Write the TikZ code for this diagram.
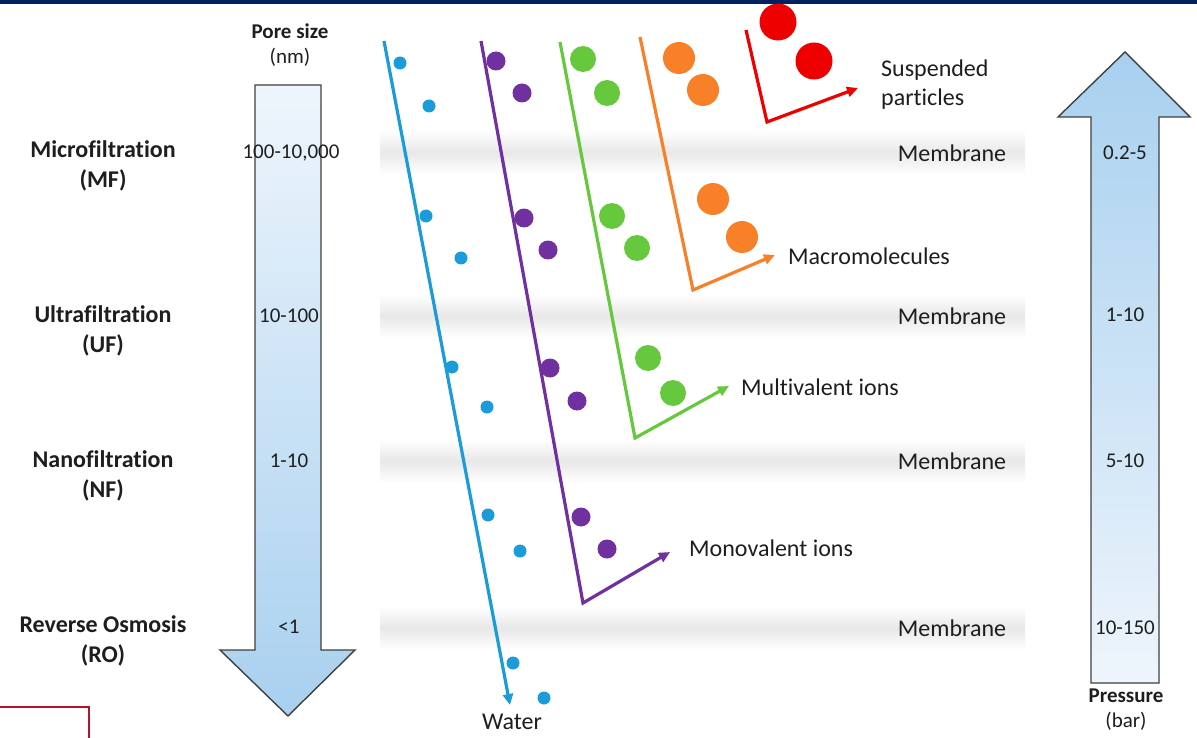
\documentclass[tikz,border=0pt]{standalone}
\usepackage{fontspec}
\setmainfont{Carlito}[RawFeature={-liga;-clig;-dlig;-calt}]
\usetikzlibrary{arrows.meta}

\definecolor{navy}{RGB}{0,32,96}
\definecolor{framered}{RGB}{180,20,40}
\definecolor{arrlight}{RGB}{238,245,252}
\definecolor{arrdark}{RGB}{168,208,239}
\definecolor{cwater}{RGB}{27,155,215}
\definecolor{cmono}{RGB}{112,48,160}
\definecolor{cmulti}{RGB}{102,200,60}
\definecolor{cmacro}{RGB}{247,128,40}
\definecolor{csusp}{RGB}{238,0,0}
\definecolor{txt}{RGB}{30,30,30}

\begin{document}
\begin{tikzpicture}[x=1pt,y=-1pt,
  lbl/.style={font=\fontsize{24}{29}\selectfont, text=txt, inner sep=0pt},
  biglbl/.style={font=\bfseries\fontsize{24}{30}\selectfont, text=txt, inner sep=0pt, align=center},
  val/.style={font=\fontsize{21}{25}\selectfont, text=txt, inner sep=0pt, align=center},
  band/.style={top color=white, bottom color=white, middle color=black!9, draw=none},
  bigarrow/.style={draw=black!75, line width=1.4pt},
  flow/.style={line width=3.2pt, line join=miter, -{Triangle[length=11pt,width=10pt]}},
  dot/.style={circle, inner sep=0pt, draw=none, fill=#1},
  wdot/.style={dot=cwater, minimum size=13pt},
  mdot/.style={dot=cmono, minimum size=19pt},
  gdot/.style={dot=cmulti, minimum size=26pt},
  odot/.style={dot=cmacro, minimum size=32pt},
  rdot/.style={dot=csusp, minimum size=37pt}
]
\clip (0,0) rectangle (1197,738);
\fill[white] (0,0) rectangle (1197,738);

% header rule and frame corner
\fill[navy] (0,0) rectangle (1197,4.5);
\draw[framered, line width=2pt] (-5,707) -- (89,707) -- (89,745);

% membrane bands
\shade[band] (380,130) rectangle (1025,175);
\shade[band] (380,294) rectangle (1025,338);
\shade[band] (380,439) rectangle (1025,483);
\shade[band] (380,606) rectangle (1025,650);

% pore size arrow (down)
\shade[bigarrow, top color=arrlight, bottom color=arrdark]
  (255,85) -- (321,85) -- (321,650) -- (355,650) -- (288,716) -- (220,650) -- (255,650) -- cycle;
% pressure arrow (up)
\shade[bigarrow, top color=arrdark, bottom color=arrlight]
  (1091,683) -- (1159,683) -- (1159,117) -- (1190,117) -- (1125,52) -- (1058,117) -- (1091,117) -- cycle;

% headings
\node[val] (pore) at (290,45) {{\bfseries Pore size}\\(nm)};
\node[val] (pres) at (1126,710) {{\bfseries Pressure}\\(bar)};

% process names
\node[biglbl] (mf) at (103,166) {Microfiltration\\(MF)};
\node[biglbl] (uf) at (103,331) {Ultrafiltration\\(UF)};
\node[biglbl] (nf) at (103,476) {Nanofiltration\\(NF)};
\node[biglbl] (ro) at (103,641) {Reverse Osmosis\\(RO)};

% pore sizes
\node[val] (p1) at (291,153) {100-10,000};
\node[val] (p2) at (289,316) {10-100};
\node[val] (p3) at (289,461) {1-10};
\node[val] (p4) at (289,627) {<1};

% pressures
\node[val] (b1) at (1125,153) {0.2-5};
\node[val] (b2) at (1125,315) {1-10};
\node[val] (b3) at (1125,461) {5-10};
\node[val] (b4) at (1125,628) {10-150};

% membranes
\node[lbl] (m1) at (952,153) {Membrane};
\node[lbl] (m2) at (952,316) {Membrane};
\node[lbl] (m3) at (952,461) {Membrane};
\node[lbl] (m4) at (952,628) {Membrane};

% flow paths
\coordinate (w0) at (384,41);
\coordinate (w1) at (510,705);
\coordinate (v0) at (481,41);
\coordinate (v1) at (583,603);
\coordinate (v2) at (670,552);
\coordinate (g0) at (560,42);
\coordinate (g1) at (635,438);
\coordinate (g2) at (729,386);
\coordinate (o0) at (640,37);
\coordinate (o1) at (693,290);
\coordinate (o2) at (775,255);
\coordinate (r0) at (746,30);
\coordinate (r1) at (767,122);
\coordinate (r2) at (858,88);

\draw[flow, cwater] (w0) -- (w1);
\draw[flow, cmono] (v0) -- (v1) -- (v2);
\draw[flow, cmulti] (g0) -- (g1) -- (g2);
\draw[flow, cmacro] (o0) -- (o1) -- (o2);
\draw[flow, csusp] (r0) -- (r1) -- (r2);

% water
\foreach \n/\p in {1/{(400,63)},2/{(429,106)},3/{(426,216)},4/{(461,258)},5/{(452,367)},
                   6/{(487,407)},7/{(488,515)},8/{(520,551)},9/{(513,663)},10/{(544,698)}}
  \node[wdot] (wd\n) at \p {};
% monovalent ions
\foreach \n/\p in {1/{(496,61)},2/{(522,93)},3/{(524,218)},4/{(548,250)},5/{(550,368)},
                   6/{(577,401)},7/{(581,517)},8/{(607,549)}}
  \node[mdot] (md\n) at \p {};
% multivalent ions
\foreach \n/\p in {1/{(583,59)},2/{(607,93)},3/{(612,216)},4/{(637,248)},5/{(648,358)},6/{(673,393)}}
  \node[gdot] (gd\n) at \p {};
% macromolecules
\foreach \n/\p in {1/{(679,58)},2/{(703,90)},3/{(713,199)},4/{(742,237)}}
  \node[odot] (od\n) at \p {};
% suspended particles
\node[rdot] (rd1) at (778,22) {};
\node[rdot] (rd2) at (814,61) {};

% species labels
\node[lbl, anchor=west, align=left] (lsusp) at (881,85) {Suspended\\particles};
\node[lbl, anchor=west] (lmacro) at (788,256) {Macromolecules};
\node[lbl, anchor=west] (lmulti) at (741,387) {Multivalent ions};
\node[lbl, anchor=west] (lmono) at (689,548) {Monovalent ions};
\node[lbl] (lwater) at (512,722) {Water};
\end{tikzpicture}
\end{document}
